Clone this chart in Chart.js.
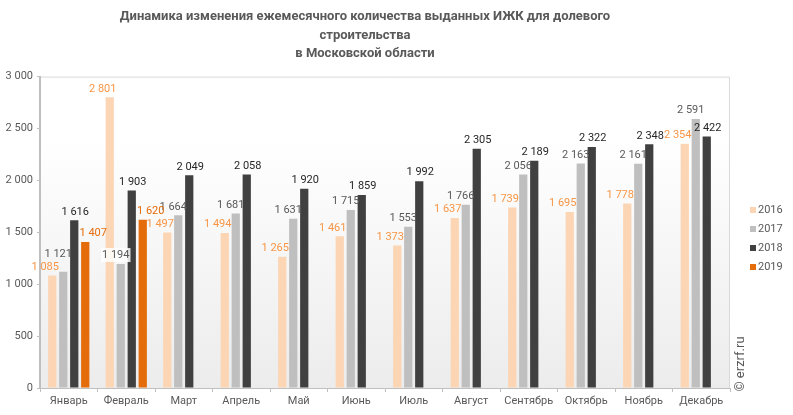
<!DOCTYPE html>
<html lang="ru">
<head>
  <meta charset="UTF-8">
  <title>Динамика ИЖК</title>
  <script src="https://cdn.jsdelivr.net/npm/chart.js"></script>
  <style>
    body { margin: 0; background: #fff; }
    #wrap { width: 793px; height: 415px; position: relative; }
  </style>
</head>
<body>
  <div id="wrap"><canvas id="chart"></canvas></div>
  <script>
    // data
    const months = ['Январь', 'Февраль', 'Март', 'Апрель', 'Май', 'Июнь', 'Июль', 'Август', 'Сентябрь', 'Октябрь', 'Ноябрь', 'Декабрь'];
    const years = ['2016', '2017', '2018', '2019'];
    const v2016 = [1085, 2801, 1497, 1494, 1265, 1461, 1373, 1637, 1739, 1695, 1778, 2354];
    const v2017 = [1121, 1194, 1664, 1681, 1631, 1715, 1553, 1766, 2056, 2163, 2161, 2591];
    const v2018 = [1616, 1903, 2049, 2058, 1920, 1859, 1992, 2305, 2189, 2322, 2348, 2422];
    const v2019 = [1407, 1620, null, null, null, null, null, null, null, null, null, null];
    const yTicks = [0, 500, 1000, 1500, 2000, 2500, 3000];

    const barColors = ['#fcd5b5', '#bfbfbf', '#404040', '#e46c0a'];
    const labelColors = ['#f79646', '#595959', '#262626', '#e46c0a'];
    const labelShift = [-7, -5, 1, 8];
    const FONT = 'Roboto, "Liberation Sans", Arial, sans-serif';

    // 1 085 style
    function fmt(v) {
      return String(v).replace(/\B(?=(\d{3})+(?!\d))/g, ' ');
    }

    const plotDecor = {
      id: 'plotDecor',
      beforeDraw(chart) {
        const { ctx, chartArea: a } = chart;
        const g = ctx.createLinearGradient(0, a.top, 0, a.bottom);
        g.addColorStop(0, '#ffffff');
        g.addColorStop(0.2, '#ffffff');
        g.addColorStop(1, '#ececec');
        ctx.save();
        ctx.fillStyle = g;
        ctx.fillRect(a.left, a.top, a.right - a.left, a.bottom - a.top);
        ctx.strokeStyle = '#d9d9d9';
        ctx.lineWidth = 1;
        ctx.beginPath();
        ctx.moveTo(a.left, a.top + 0.5);
        ctx.lineTo(a.right - 0.5, a.top + 0.5);
        ctx.lineTo(a.right - 0.5, a.bottom);
        ctx.stroke();
        ctx.restore();
      },
      afterDatasetsDraw(chart) {
        const ctx = chart.ctx;
        ctx.save();
        ctx.font = '11px ' + FONT;
        ctx.textBaseline = 'bottom';
        ctx.textAlign = 'center';
        const h = 12;
        const placed = months.map(() => []);
        const metas = chart.data.datasets.map((ds, di) => chart.getDatasetMeta(di));
        chart.data.datasets.forEach((ds, di) => {
          metas[di].data.forEach((bar, i) => {
            const v = ds.data[i];
            if (v == null) return;
            const txt = fmt(v);
            const w = ctx.measureText(txt).width;
            const x = bar.x + labelShift[di];
            let bottom = bar.y - 3;
            let moved = true;
            while (moved) {
              moved = false;
              for (const r of placed[i]) {
                if (x - w / 2 < r.r && x + w / 2 > r.l && bottom - h < r.b && bottom > r.t) {
                  bottom = r.t - 1;
                  moved = true;
                }
              }
            }
            placed[i].push({ l: x - w / 2, r: x + w / 2, t: bottom - h, b: bottom });
            // white box only when the label really sits over a neighbouring bar
            const hitsBar = metas.some((m, mi) => {
              const b = m.data[i];
              if (mi === di || !b || chart.data.datasets[mi].data[i] == null) return false;
              const bw = b.width / 2;
              const ov = Math.min(x + w / 2, b.x + bw) - Math.max(x - w / 2, b.x - bw);
              return ov > 6 && bottom > b.y + 3;
            });
            if (hitsBar) {
              ctx.fillStyle = 'rgba(255,255,255,0.85)';
              ctx.fillRect(x - w / 2 - 1, bottom - h - 1, w + 2, h + 2);
            }
            ctx.fillStyle = labelColors[di];
            ctx.fillText(txt, x, bottom);
          });
        });
        ctx.restore();
      },
      afterDraw(chart) {
        const ctx = chart.ctx;
        ctx.save();
        // legend
        ctx.font = '11px ' + FONT;
        ctx.textBaseline = 'middle';
        ctx.textAlign = 'left';
        years.forEach((y, i) => {
          const cy = 210 + i * 19;
          ctx.fillStyle = barColors[i];
          ctx.fillRect(750, cy - 3, 6, 6);
          ctx.fillStyle = '#595959';
          ctx.fillText(y, 758, cy);
        });
        // watermark
        ctx.translate(741, 364);
        ctx.rotate(-Math.PI / 2);
        ctx.font = '13px ' + FONT;
        ctx.textAlign = 'center';
        ctx.fillStyle = '#595959';
        ctx.fillText('© erzrf.ru', 0, 0);
        ctx.restore();
      }
    };

    const series = [v2016, v2017, v2018, v2019];

    new Chart(document.getElementById('chart'), {
      type: 'bar',
      data: {
        labels: months,
        datasets: series.map((d, i) => ({
          label: years[i],
          data: d,
          backgroundColor: barColors[i],
          categoryPercentage: 0.765,
          barPercentage: 0.75
        }))
      },
      options: {
        responsive: true,
        maintainAspectRatio: false,
        animation: false,
        layout: { padding: { left: 0, right: 63, top: 0, bottom: 0 } },
        plugins: {
          legend: { display: false },
          tooltip: { enabled: false },
          title: {
            display: true,
            text: ['Динамика изменения ежемесячного количества выданных ИЖК для долевого', 'строительства', 'в Московской области'],
            color: '#595959',
            font: { family: FONT, size: 13, weight: 'bold', lineHeight: 1.4 },
            padding: { top: 8, bottom: 14 }
          }
        },
        scales: {
          x: {
            grid: { display: true, drawOnChartArea: false, offset: true, tickLength: 4, color: '#bfbfbf' },
            border: { color: '#bfbfbf' },
            ticks: { color: '#595959', font: { family: FONT, size: 11 }, padding: 3, maxRotation: 0, autoSkip: false },
            afterFit(s) { s.height = 27; }
          },
          y: {
            min: yTicks[0],
            max: yTicks[yTicks.length - 1],
            afterBuildTicks(s) { s.ticks = yTicks.map(v => ({ value: v })); },
            grid: { display: true, drawOnChartArea: false, tickLength: 3, color: '#bfbfbf' },
            border: { color: '#bfbfbf', width: 2 },
            ticks: { color: '#595959', font: { family: FONT, size: 11 }, padding: 4, callback: v => fmt(v) },
            afterFit(s) { s.width = 40; }
          }
        }
      },
      plugins: [plotDecor]
    });
  </script>
</body>
</html>
